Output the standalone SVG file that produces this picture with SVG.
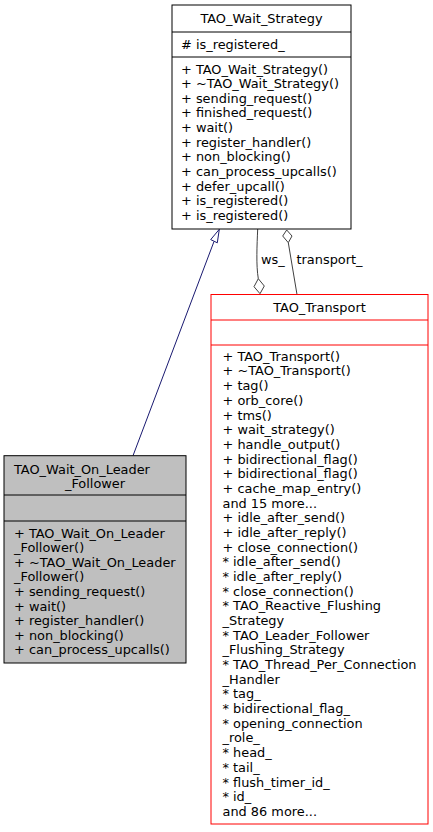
<svg xmlns="http://www.w3.org/2000/svg" width="433" height="832" viewBox="0 0 433 832">
<style>
text{font-family:"DejaVu Sans","Liberation Sans",sans-serif;font-size:12.9px;fill:#000}
.c{text-anchor:middle}
.box{fill:#fff;stroke:#000;stroke-width:1}
.gray{fill:#bfbfbf;stroke:#000;stroke-width:1}
.red{fill:#fff;stroke:#ff0000;stroke-width:1}
.sep{stroke:#000;stroke-width:1}
.rsep{stroke:#ff0000;stroke-width:1}
.inh{fill:none;stroke:#191970;stroke-width:1}
.inhHead{fill:#fff;stroke:#191970;stroke-width:1}
.comp{fill:none;stroke:#404040;stroke-width:1}
.dia{fill:#fff;stroke:#404040;stroke-width:1}
</style>
<rect width="433" height="832" fill="#fff"/>
<g id="connectors">
<path class="inh" d="M214,241.5 L133,455.7"/>
<polygon class="inhHead" points="219.3,229.3 217.3,242.8 210.7,239.6"/>
<path class="comp" d="M257.7,229 C257,245 256,265 258.3,278.7"/>
<polygon class="dia" points="258.3,278.7 264.3,286 260,293.7 254,286.7"/>
<text x="261" y="264">ws_</text>
<path class="comp" d="M288.3,242.7 L297,294.5"/>
<polygon class="dia" points="286.7,230 292,236 288.3,242.7 282.7,236"/>
<text x="296.5" y="264">transport_</text>
</g>
<g id="node_TAO_Wait_Strategy">
<rect class="box" x="172" y="5" width="179" height="224"/>
<line class="sep" x1="172" y1="32" x2="351" y2="32"/>
<line class="sep" x1="172" y1="57" x2="351" y2="57"/>
<text class="c" x="261.5" y="23">TAO_Wait_Strategy</text>
<text x="181" y="48.5"># is_registered_</text>
<text x="181" y="73.5">+ TAO_Wait_Strategy()</text>
<text x="181" y="88.15">+ ~TAO_Wait_Strategy()</text>
<text x="181" y="102.8">+ sending_request()</text>
<text x="181" y="117.45">+ finished_request()</text>
<text x="181" y="132.1">+ wait()</text>
<text x="181" y="146.75">+ register_handler()</text>
<text x="181" y="161.4">+ non_blocking()</text>
<text x="181" y="176.05">+ can_process_upcalls()</text>
<text x="181" y="190.7">+ defer_upcall()</text>
<text x="181" y="205.35">+ is_registered()</text>
<text x="181" y="220">+ is_registered()</text>
</g>
<g id="node_TAO_Wait_On_Leader_Follower">
<rect class="gray" x="4" y="455.7" width="182" height="207.3"/>
<line class="sep" x1="4" y1="495" x2="186" y2="495"/>
<line class="sep" x1="4" y1="521" x2="186" y2="521"/>
<text x="14" y="473.5">TAO_Wait_On_Leader</text>
<text class="c" x="95" y="488">_Follower</text>
<text x="14" y="537.5">+ TAO_Wait_On_Leader</text>
<text x="14" y="552.1">_Follower()</text>
<text x="14" y="566.7">+ ~TAO_Wait_On_Leader</text>
<text x="14" y="581.3">_Follower()</text>
<text x="14" y="595.9">+ sending_request()</text>
<text x="14" y="610.5">+ wait()</text>
<text x="14" y="625.1">+ register_handler()</text>
<text x="14" y="639.7">+ non_blocking()</text>
<text x="14" y="654.3">+ can_process_upcalls()</text>
</g>
<g id="node_TAO_Transport">
<rect class="red" x="211" y="294.5" width="217" height="529.5"/>
<line class="rsep" x1="211" y1="320" x2="428" y2="320"/>
<line class="rsep" x1="211" y1="345" x2="428" y2="345"/>
<text class="c" x="319.5" y="311.5">TAO_Transport</text>
<text x="222.5" y="360.8">+ TAO_Transport()</text>
<text x="222.5" y="375.48">+ ~TAO_Transport()</text>
<text x="222.5" y="390.16">+ tag()</text>
<text x="222.5" y="404.84">+ orb_core()</text>
<text x="222.5" y="419.52">+ tms()</text>
<text x="222.5" y="434.2">+ wait_strategy()</text>
<text x="222.5" y="448.88">+ handle_output()</text>
<text x="222.5" y="463.56">+ bidirectional_flag()</text>
<text x="222.5" y="478.24">+ bidirectional_flag()</text>
<text x="222.5" y="492.92">+ cache_map_entry()</text>
<text x="222.5" y="507.6">and 15 more...</text>
<text x="222.5" y="522.28">+ idle_after_send()</text>
<text x="222.5" y="536.96">+ idle_after_reply()</text>
<text x="222.5" y="551.64">+ close_connection()</text>
<text x="222.5" y="566.32">* idle_after_send()</text>
<text x="222.5" y="581">* idle_after_reply()</text>
<text x="222.5" y="595.68">* close_connection()</text>
<text x="222.5" y="610.36">* TAO_Reactive_Flushing</text>
<text x="222.5" y="625.04">_Strategy</text>
<text x="222.5" y="639.72">* TAO_Leader_Follower</text>
<text x="222.5" y="654.4">_Flushing_Strategy</text>
<text x="222.5" y="669.08">* TAO_Thread_Per_Connection</text>
<text x="222.5" y="683.76">_Handler</text>
<text x="222.5" y="698.44">* tag_</text>
<text x="222.5" y="713.12">* bidirectional_flag_</text>
<text x="222.5" y="727.8">* opening_connection</text>
<text x="222.5" y="742.48">_role_</text>
<text x="222.5" y="757.16">* head_</text>
<text x="222.5" y="771.84">* tail_</text>
<text x="222.5" y="786.52">* flush_timer_id_</text>
<text x="222.5" y="801.2">* id_</text>
<text x="222.5" y="815.88">and 86 more...</text>
</g>
</svg>
